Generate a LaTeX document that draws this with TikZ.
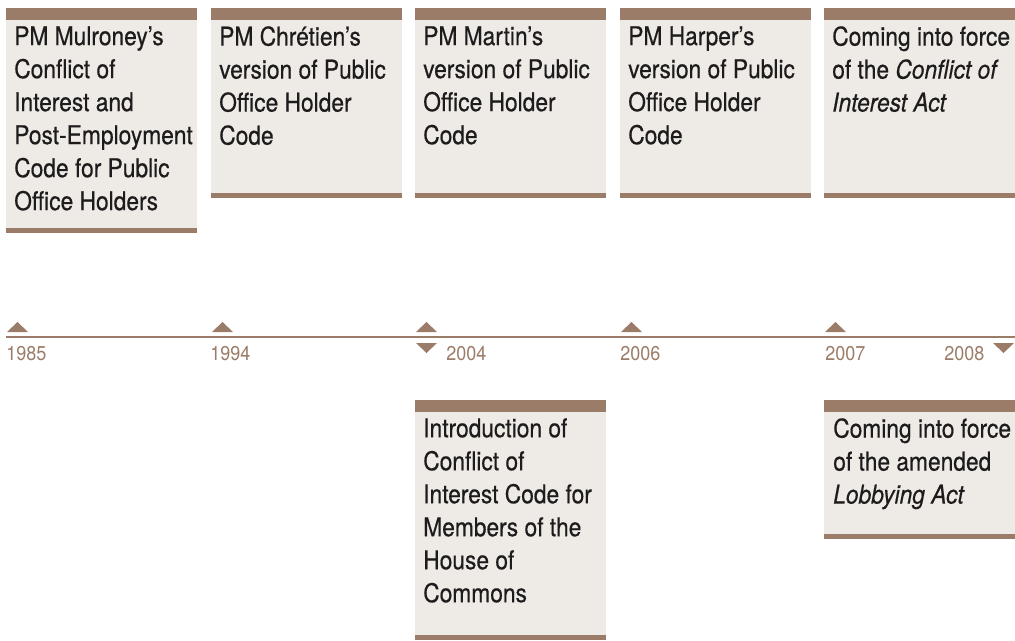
\documentclass[tikz,border=0pt]{standalone}
\usepackage{fontspec}
\setmainfont{TeX Gyre Heros}[FakeStretch=0.9]
\newfontfamily\entryfont{TeX Gyre Heros}[Ligatures=TeX,FakeStretch=0.88,FakeBold=0.5]
\usetikzlibrary{positioning}
\definecolor{barbrown}{RGB}{155,124,104}
\definecolor{panel}{RGB}{238,235,231}
\definecolor{ink}{RGB}{30,27,28}

\begin{document}
\begin{tikzpicture}[x=0.75pt,y=-0.75pt,
  entry/.style={anchor=north west,inner sep=0pt,align=left,text=ink,font=\entryfont\fontsize{19.4}{24.75}\selectfont},
  yearlbl/.style={anchor=base west,inner sep=0pt,text=barbrown,font=\fontsize{15}{18}\selectfont}]
\useasboundingbox (0,0) rectangle (1015,640);
% panels above the line: left edge / bottom edge
\foreach \x/\b in {6/233,211/198,415/198,620/198,824/198}{
  \fill[panel] (\x,8) rectangle (\x+191,\b);
  \fill[barbrown] (\x,8) rectangle (\x+191,19.5);
  \fill[barbrown] (\x,\b-5) rectangle (\x+191,\b);
}
% panels below the line
\foreach \x/\b in {415/640,824/539}{
  \fill[panel] (\x,400) rectangle (\x+191,\b);
  \fill[barbrown] (\x,400) rectangle (\x+191,411.5);
  \fill[barbrown] (\x,\b-5) rectangle (\x+191,\b);
}
\node[entry] (mulroney) at (14,26) {PM Mulroney's\\Conflict of\\Interest and\\Post-Employment\\Code for Public\\Office Holders};
\node[entry] (chretien) at (219,26) {PM Chrétien's\\version of Public\\Office Holder\\Code};
\node[entry] (martin) at (423,26) {PM Martin's\\version of Public\\Office Holder\\Code};
\node[entry] (harper) at (628,26) {PM Harper's\\version of Public\\Office Holder\\Code};
\node[entry] (coiact) at (832,26) {Coming into force\\of the \textit{Conflict of}\\\textit{Interest Act}};
\node[entry] (coicode) at (423,418) {Introduction of\\Conflict of\\Interest Code for\\Members of the\\House of\\Commons};
\node[entry] (lobbying) at (833,418) {Coming into force\\of the amended\\\textit{Lobbying Act}};
% time line
\coordinate (tlstart) at (6,337);
\coordinate (tlend) at (1015,337);
\draw[barbrown,line width=1.3pt] (tlstart) -- (tlend);
% markers above and below the line
\foreach \x in {6,211,415,620,824}{
  \fill[barbrown] (\x+1,332) -- (\x+22,332) -- (\x+11.5,322) -- cycle;
}
\foreach \x in {416,993}{
  \fill[barbrown] (\x,343) -- (\x+21,343) -- (\x+10.5,353) -- cycle;
}
\foreach \x/\y [count=\i] in {6/1985,210/1994,446/2004,620/2006,825/2007,944/2008}{
  \node[yearlbl] (yr\i) at (\x,360) {\y};
}
\end{tikzpicture}
\end{document}
